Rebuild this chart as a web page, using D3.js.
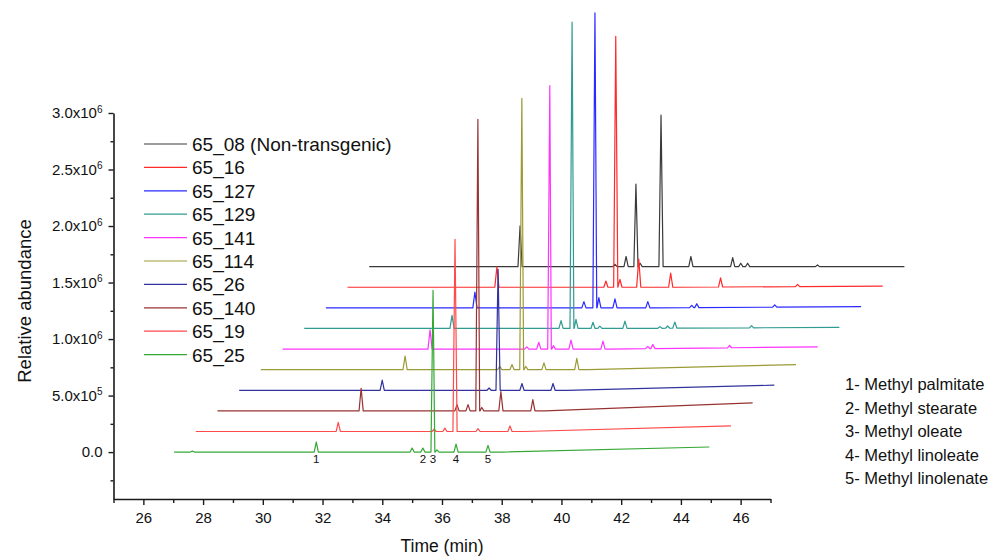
<!DOCTYPE html>
<html>
<head>
<meta charset="utf-8">
<script src="https://cdn.jsdelivr.net/npm/d3@7"></script>
<style>
  html, body { margin: 0; padding: 0; background: #fff; }
  svg { display: block; font-family: "Liberation Sans", Arial, Helvetica, sans-serif; }
</style>
</head>
<body>
<svg id="chart" width="1007" height="559"></svg>
<script>
// ---------------- DATA ----------------
// Legend / plot order (top trace first)
const seriesNames = ["65_08 (Non-transgenic)", "65_16", "65_127", "65_129", "65_141", "65_114", "65_26", "65_140", "65_19", "65_25"];
const seriesColors = ["#3a3a3a", "#ff2a2a", "#2a2aff", "#2f9b92", "#ff33ff", "#9b9b35", "#32329e", "#983333", "#ff4a4a", "#35a835"];

// Peaks of each chromatogram: [retention time (min), height (abundance)]
const peaks_65_08  = [[32.08, 0.36e6], [35.26, 0.02e6], [35.63, 0.09e6], [35.96, 0.73e6], [36.10, 0.03e6], [36.80, 1.34e6], [37.80, 0.09e6], [39.20, 0.08e6], [39.47, 0.03e6], [39.70, 0.03e6], [42.04, 0.015e6]];
const peaks_65_16  = [[32.03, 0.18e6], [35.68, 0.055e6], [36.01, 2.22e6], [36.15, 0.07e6], [36.78, 0.25e6], [37.85, 0.125e6], [39.52, 0.08e6], [42.10, 0.02e6]];
const peaks_65_127 = [[32.02, 0.14e6], [35.67, 0.055e6], [36.04, 2.61e6], [36.17, 0.09e6], [36.71, 0.08e6], [37.81, 0.055e6], [39.28, 0.02e6], [39.45, 0.035e6], [42.06, 0.02e6]];
const peaks_65_129 = [[31.98, 0.115e6], [35.63, 0.07e6], [36.00, 2.71e6], [36.13, 0.08e6], [36.70, 0.055e6], [36.93, 0.02e6], [37.77, 0.065e6], [38.94, 0.015e6], [39.20, 0.02e6], [39.44, 0.055e6], [42.01, 0.02e6]];
const peaks_65_141 = [[31.97, 0.17e6], [35.21, 0.02e6], [35.61, 0.06e6], [35.98, 2.33e6], [36.10, 0.03e6], [36.69, 0.08e6], [37.76, 0.07e6], [39.26, 0.02e6], [39.43, 0.035e6], [42.00, 0.02e6]];
const peaks_65_114 = [[31.86, 0.12e6], [35.03, 0.03e6], [35.44, 0.045e6], [35.77, 2.40e6], [35.90, 0.03e6], [36.51, 0.06e6], [37.61, 0.10e6]];
const peaks_65_26  = [[31.82, 0.09e6], [35.40, 0.02e6], [35.70, 1.07e6], [36.50, 0.06e6], [37.54, 0.06e6]];
const peaks_65_140 = [[31.84, 0.20e6], [35.05, 0.055e6], [35.42, 0.055e6], [35.75, 2.58e6], [35.88, 0.03e6], [36.52, 0.17e6], [37.59, 0.10e6]];
const peaks_65_19  = [[31.80, 0.08e6], [35.01, 0.02e6], [35.37, 0.03e6], [35.71, 1.70e6], [36.48, 0.025e6], [37.55, 0.05e6]];
const peaks_65_25  = [[27.64, 0.01e6], [31.79, 0.088e6], [35.00, 0.035e6], [35.36, 0.035e6], [35.70, 1.43e6], [35.83, 0.02e6], [36.47, 0.07e6], [37.54, 0.06e6]];
const seriesPeaks = [peaks_65_08, peaks_65_16, peaks_65_127, peaks_65_129, peaks_65_141, peaks_65_114, peaks_65_26, peaks_65_140, peaks_65_19, peaks_65_25];

// Baseline rise at the end of each run (abundance)
const baselineDrift = [0, 0.01e6, 0.01e6, 0.01e6, 0.02e6, 0.045e6, 0.045e6, 0.07e6, 0.05e6, 0.045e6];
const runStart = 27.03, runEnd = 44.95, driftStart = 38.0;

// Waterfall offsets between consecutive traces
const offsetTime = 0.726;       // min
const offsetAbundance = 0.1823e6;

// Axis ticks
const xTickValues = [26, 28, 30, 32, 34, 36, 38, 40, 42, 44, 46];
const xMinorValues = [25, 27, 29, 31, 33, 35, 37, 39, 41, 43, 45, 47];
const yTickValues = [0, 0.5e6, 1.0e6, 1.5e6, 2.0e6, 2.5e6, 3.0e6];
const yTickMantissa = ["0.0", "5.0", "1.0", "1.5", "2.0", "2.5", "3.0"];
const yTickExponent = ["", "5", "6", "6", "6", "6", "6"];
const yMinorValues = [-0.25e6, 0.25e6, 0.75e6, 1.25e6, 1.75e6, 2.25e6, 2.75e6];

// Peak identification on the bottom trace
const peakMarkLabels = ["1", "2", "3", "4", "5"];
const peakMarkTimes = [31.79, 35.36, 35.70, 36.47, 37.54];
const compoundLabels = ["1- Methyl palmitate", "2- Methyl stearate", "3- Methyl oleate", "4- Methyl linoleate", "5- Methyl linolenate"];

// ---------------- CHART ----------------
const svg = d3.select("#chart");
const x = d3.scaleLinear().domain([25, 47]).range([113.5, 770.5]);
const y = d3.scaleLinear().domain([-0.415e6, 3.0e6]).range([499, 113]);

const axisColor = "#1a1a1a";

// X axis
const gx = svg.append("g").attr("transform", `translate(0,${y(-0.415e6)})`);
gx.call(d3.axisBottom(x).tickValues(xTickValues).tickSize(6).tickPadding(7).tickSizeOuter(0).tickFormat(d3.format("d")));
gx.append("g").call(d3.axisBottom(x).tickValues(xMinorValues).tickSize(4).tickSizeOuter(0).tickFormat(""))
  .select(".domain").remove();
gx.selectAll("text").attr("font-size", 15).attr("fill", "#111").attr("font-family", "Liberation Sans, Arial, sans-serif");

// Y axis
const gy = svg.append("g").attr("transform", `translate(${x(25)},0)`);
gy.call(d3.axisLeft(y).tickValues(yTickValues).tickSize(5).tickPadding(6).tickSizeOuter(0).tickFormat(""));
gy.append("g").call(d3.axisLeft(y).tickValues(yMinorValues).tickSize(3).tickSizeOuter(0).tickFormat(""))
  .select(".domain").remove();

gy.selectAll(".tick").filter(d => yTickValues.includes(d)).each(function(d) {
  const i = yTickValues.indexOf(d);
  const t = d3.select(this).select("text")
    .attr("font-size", 15).attr("fill", "#111").attr("font-family", "Liberation Sans, Arial, sans-serif");
  t.text(null);
  if (yTickExponent[i]) {
    t.append("tspan").text(yTickMantissa[i] + "x10");
    t.append("tspan").text(yTickExponent[i]).attr("font-size", 10).attr("dy", "-0.55em");
  } else {
    t.append("tspan").text(yTickMantissa[i]);
  }
});

[gx, gy].forEach(g => {
  g.selectAll(".domain").attr("stroke", axisColor).attr("stroke-width", 1.6);
  g.selectAll(".tick line").attr("stroke", axisColor).attr("stroke-width", 1.4);
});

// Axis titles
svg.append("text").attr("x", (x(25) + x(47)) / 2 + 0).attr("y", 552)
  .attr("text-anchor", "middle").attr("font-size", 17.5).attr("fill", "#111").text("Time (min)");
svg.append("text").attr("transform", `translate(31,${301}) rotate(-90)`)
  .attr("text-anchor", "middle").attr("font-size", 18.5).attr("fill", "#111").text("Relative abundance");

// Traces
const halfWidth = 0.07;
function baseline(t, drift) {
  return t <= driftStart ? 0 : drift * (t - driftStart) / (runEnd - driftStart);
}
function tracePoints(peaks, drift) {
  const pts = [[runStart, 0], [driftStart, 0], [runEnd, drift]];
  peaks.forEach(([t, h]) => {
    pts.push([t - halfWidth, baseline(t - halfWidth, drift)]);
    pts.push([t, baseline(t, drift) + h]);
    pts.push([t + halfWidth, baseline(t + halfWidth, drift)]);
  });
  return pts.sort((a, b) => a[0] - b[0]);
}
const n = seriesNames.length;
const line = d3.line();
seriesNames.forEach((name, k) => {
  const level = n - 1 - k; // bottom trace has level 0
  const pts = tracePoints(seriesPeaks[k], baselineDrift[k])
    .map(([t, v]) => [x(t + level * offsetTime), y(v + level * offsetAbundance)]);
  svg.append("path").attr("d", line(pts)).attr("fill", "none")
    .attr("stroke", seriesColors[k]).attr("stroke-width", 1.2).attr("stroke-linejoin", "round");
});

// Peak numbers under bottom trace
svg.append("g").selectAll("text").data(peakMarkLabels).join("text")
  .attr("x", (d, i) => x(peakMarkTimes[i])).attr("y", 463)
  .attr("text-anchor", "middle").attr("font-size", 11.5).attr("fill", "#111").text(d => d);

// Legend
const lg = svg.append("g");
seriesNames.forEach((name, k) => {
  const yy = 144 + k * 23.4;
  lg.append("line").attr("x1", 144).attr("x2", 187).attr("y1", yy).attr("y2", yy)
    .attr("stroke", seriesColors[k]).attr("stroke-width", 1.2);
  lg.append("text").attr("x", 192).attr("y", yy + 7).attr("font-size", 19).attr("fill", "#111").text(name);
});

// Compound key
svg.append("g").selectAll("text").data(compoundLabels).join("text")
  .attr("x", 845).attr("y", (d, i) => 390 + i * 23.6)
  .attr("font-size", 16.5).attr("fill", "#111").text(d => d);
</script>
</body>
</html>
